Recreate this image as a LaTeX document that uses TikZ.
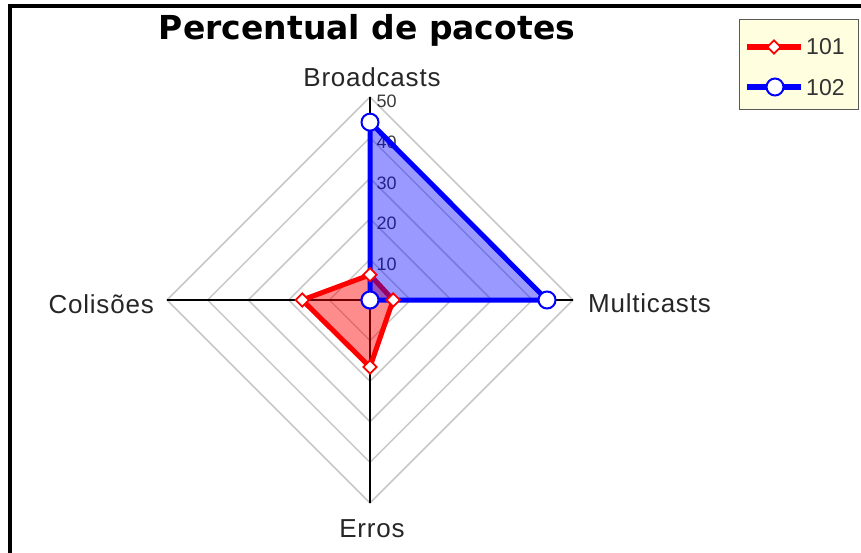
\documentclass[tikz,border=0pt]{standalone}
\usepackage{fontspec}
\setmainfont{Liberation Sans}
\newfontfamily\titlefont{DejaVu Sans}
\newfontfamily\labelfont[LetterSpace=3]{Liberation Sans}
\usetikzlibrary{shapes.geometric}
\definecolor{legendfill}{HTML}{FFFFE0}
\definecolor{ticktext}{HTML}{3A3A3A}
\definecolor{gridgray}{HTML}{C8C8C8}
\tikzstyle{grid}=[draw=gridgray, line width=1.5pt]
\tikzstyle{axis}=[draw=black, line width=1.5pt]
\tikzstyle{axis label}=[font=\labelfont\fontsize{26}{30}\selectfont, text=black!85, anchor=base, inner sep=0pt]
\tikzstyle{tick label}=[font=\fontsize{18}{20}\selectfont, text=ticktext, anchor=base west, inner sep=0pt]
\tikzstyle{series a}=[draw=red, line width=5pt, line join=round, fill=red, fill opacity=0.45]
\tikzstyle{series b}=[draw=blue, line width=5pt, line join=round, fill=blue, fill opacity=0.4]
\tikzstyle{mark a}=[diamond, draw=red, fill=white, line width=1.8pt, inner sep=0pt, minimum size=14pt]
\tikzstyle{mark b}=[circle, draw=blue, fill=white, line width=2pt, inner sep=0pt, minimum size=17pt]

\begin{document}
\begin{tikzpicture}[x=1pt, y=-1pt]
      \useasboundingbox (0,0) rectangle (861,553);
      % frame
      \draw[line width=3.5pt] (10,553) -- (10,6) -- (861,6);
      \node[font=\titlefont\bfseries\fontsize{33}{38}\selectfont, anchor=base, inner sep=0pt] (title) at (367,40) {Percentual de pacotes};

      \begin{scope}[shift={(370,300)}, x=4.06pt, y=4.06pt]
        \coordinate (o) at (0,0);
        \coordinate (nb) at (0,50);
        \coordinate (nm) at (50,0);
        \coordinate (ne) at (0,-50);
        \coordinate (nc) at (-50,0);
        % grid
        \foreach \r in {10,20,...,50}
          \draw[grid] (0,\r) -- (\r,0) -- (0,-\r) -- (-\r,0) -- cycle;
        \draw[axis] (o) -- (nb);
        \draw[axis] (o) -- (nm);
        \draw[axis] (o) -- (ne);
        \draw[axis] (o) -- (nc);
        \foreach \t in {10,20,...,50}
          \node[tick label, yshift=-11pt] (t\t) at (1.6,\t) {\t};

        % series 101
        \coordinate (a1) at (0,6.2);
        \coordinate (a2) at (5.7,0);
        \coordinate (a3) at (0,-16.5);
        \coordinate (a4) at (-16.7,0);
        \draw[series a] (a1) -- (a2) -- (a3) -- (a4) -- cycle;
        % series 102
        \coordinate (b1) at (0,43.8);
        \coordinate (b2) at (43.6,0);
        \coordinate (b3) at (0,0);
        \coordinate (b4) at (0,0);
        \draw[series b] (b1) -- (b2) -- (b3) -- (b4) -- cycle;
        \foreach \i in {1,...,4}
          \node[mark a] (ma\i) at (a\i) {};
        \foreach \i in {1,...,4}
          \node[mark b] (mb\i) at (b\i) {};
      \end{scope}

      % axis labels
      \node[axis label] (broad) at (372,87) {Broadcasts};
      \node[axis label, anchor=base west] (multi) at (588,312) {Multicasts};
      \node[axis label] (erros) at (372,537) {Erros};
      \node[axis label, anchor=base east] (colis) at (154,313) {Colisões};

      % legend
      \draw[draw=black!65, fill=legendfill, line width=1pt] (739,20) rectangle (858,110);
      \coordinate (la0) at (747,47);
      \coordinate (la1) at (801,47);
      \coordinate (lb0) at (747,87);
      \coordinate (lb1) at (801,87);
      \draw[draw=red, line width=6pt] (la0) -- (la1);
      \draw[draw=blue, line width=6pt] (lb0) -- (lb1);
      \node[mark a] (lma) at (774,47) {};
      \node[mark b] (lmb) at (775,87) {};
      \node[anchor=base west, inner sep=0pt, font=\fontsize{23}{26}\selectfont, text=black!80] (l101) at (806,55) {101};
      \node[anchor=base west, inner sep=0pt, font=\fontsize{23}{26}\selectfont, text=black!80] (l102) at (806,96) {102};
    \end{tikzpicture}
\end{document}
